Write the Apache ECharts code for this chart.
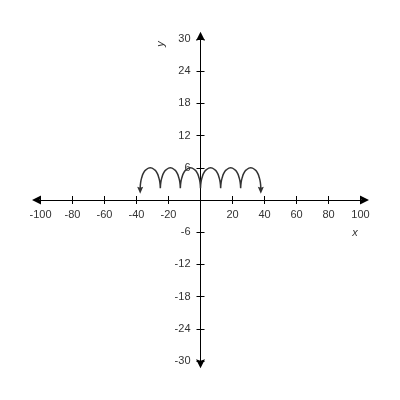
<!DOCTYPE html>
<html>
<head>
<meta charset="utf-8">
<script src="https://cdn.jsdelivr.net/npm/echarts@6/dist/echarts.min.js"></script>
<style>html,body{margin:0;padding:0;background:#fff}#c{width:400px;height:400px}</style>
</head>
<body>
<div id="c"></div>
<script>
// Tick labels
const xTicks = [-100, -80, -60, -40, -20, 20, 40, 60, 80, 100];
const yTicks = [-30, -24, -18, -12, -6, 6, 12, 18, 24, 30];

// Curve points (null separates arches so cusps stay sharp)
const curveX = [
  -37.7, -37.4, -36.7, -35.7, -34.2, -31.4, -28.6, -27.1, -26.1, -25.4, -25.1, null,
  -25.1, -24.8, -24.1, -23.1, -21.6, -18.85, -16.1, -14.6, -13.6, -12.9, -12.6, null,
  -12.6, -12.3, -11.6, -10.6, -9.1, -6.3, -3.5, -2.0, -1.0, -0.3, 0, null,
  0, 0.3, 1.0, 2.0, 3.5, 6.3, 9.1, 10.6, 11.6, 12.3, 12.6, null,
  12.6, 12.9, 13.6, 14.6, 16.1, 18.85, 21.6, 23.1, 24.1, 24.8, 25.1, null,
  25.1, 25.4, 26.1, 27.1, 28.6, 31.4, 34.2, 35.7, 36.7, 37.4, 37.7
];
const curveY = [
  2.2, 3.3, 4.2, 5.0, 5.6, 6.0, 5.6, 5.0, 4.2, 3.3, 2.2, null,
  2.2, 3.3, 4.2, 5.0, 5.6, 6.0, 5.6, 5.0, 4.2, 3.3, 2.2, null,
  2.2, 3.3, 4.2, 5.0, 5.6, 6.0, 5.6, 5.0, 4.2, 3.3, 2.2, null,
  2.2, 3.3, 4.2, 5.0, 5.6, 6.0, 5.6, 5.0, 4.2, 3.3, 2.2, null,
  2.2, 3.3, 4.2, 5.0, 5.6, 6.0, 5.6, 5.0, 4.2, 3.3, 2.2, null,
  2.2, 3.3, 4.2, 5.0, 5.6, 6.0, 5.6, 5.0, 4.2, 3.3, 2.2
];

const xRange = [-102.5, 102.5];
const yRange = [-30.5, 30.5];

const arrowPath = 'path://M5,0 L10,10 L5,8.5 L0,10 Z';

const data = curveX.map((x, i) => {
  if (x === null) return [null, null];
  const item = { value: [x, curveY[i]] };
  if (i === 0 || i === curveX.length - 1) {
    item.symbol = arrowPath;
    item.symbolSize = [6, 7];
    item.symbolRotate = 180;
    item.symbolOffset = [0, 2];
  }
  return item;
});

const font = 'Liberation Sans, Arial, sans-serif';
const lineStyle = { color: '#000', width: 1 };
const G = { left: 36.5, right: 35.5, top: 36.2, bottom: 36.2 };
const xOff = -(400 - G.top - G.bottom) / 2;
const yOff = -(400 - G.left - G.right) / 2;

function xAxisDef(outer) {
  return {
    type: 'value', min: xRange[0], max: xRange[1], position: 'bottom', offset: xOff,
    axisLine: outer ? { show: true, onZero: false, lineStyle, symbol: [arrowPath, arrowPath], symbolSize: [9, 10] }
                    : { show: false, onZero: false },
    axisTick: { show: true, inside: !outer, length: 4, lineStyle, customValues: xTicks },
    axisLabel: { show: outer, customValues: xTicks, margin: 9, fontSize: 11, color: '#333', fontFamily: font },
    splitLine: { show: false }
  };
}
function yAxisDef(outer) {
  return {
    type: 'value', min: yRange[0], max: yRange[1], position: 'left', offset: yOff,
    axisLine: outer ? { show: true, onZero: false, lineStyle, symbol: [arrowPath, arrowPath], symbolSize: [9, 10] }
                    : { show: false, onZero: false },
    axisTick: { show: true, inside: !outer, length: 4, lineStyle, customValues: yTicks },
    axisLabel: { show: outer, customValues: yTicks, margin: 10, fontSize: 11, color: '#333', fontFamily: font },
    splitLine: { show: false }
  };
}

const chart = echarts.init(document.getElementById('c'), null, { renderer: 'canvas' });
chart.setOption({
  animation: false,
  backgroundColor: '#fff',
  grid: { left: G.left, right: G.right, top: G.top, bottom: G.bottom, containLabel: false },
  xAxis: [xAxisDef(true), xAxisDef(false)],
  yAxis: [yAxisDef(true), yAxisDef(false)],
  series: [{
    type: 'line',
    data: data,
    xAxisIndex: 0, yAxisIndex: 0,
    smooth: 0.5,
    connectNulls: false,
    showSymbol: true,
    symbol: 'none',
    itemStyle: { color: '#333' },
    lineStyle: { color: '#333', width: 1.5 }
  }],
  graphic: [
    { type: 'text', x: 355, y: 233, style: { text: 'x', fill: '#333', font: 'italic 11px Liberation Sans, Arial, sans-serif', align: 'center', verticalAlign: 'middle' } },
    { type: 'text', x: 161, y: 44, rotation: Math.PI / 2, style: { text: 'y', fill: '#333', font: 'italic 11px Liberation Sans, Arial, sans-serif', align: 'center', verticalAlign: 'middle' } }
  ]
});
</script>
</body>
</html>
